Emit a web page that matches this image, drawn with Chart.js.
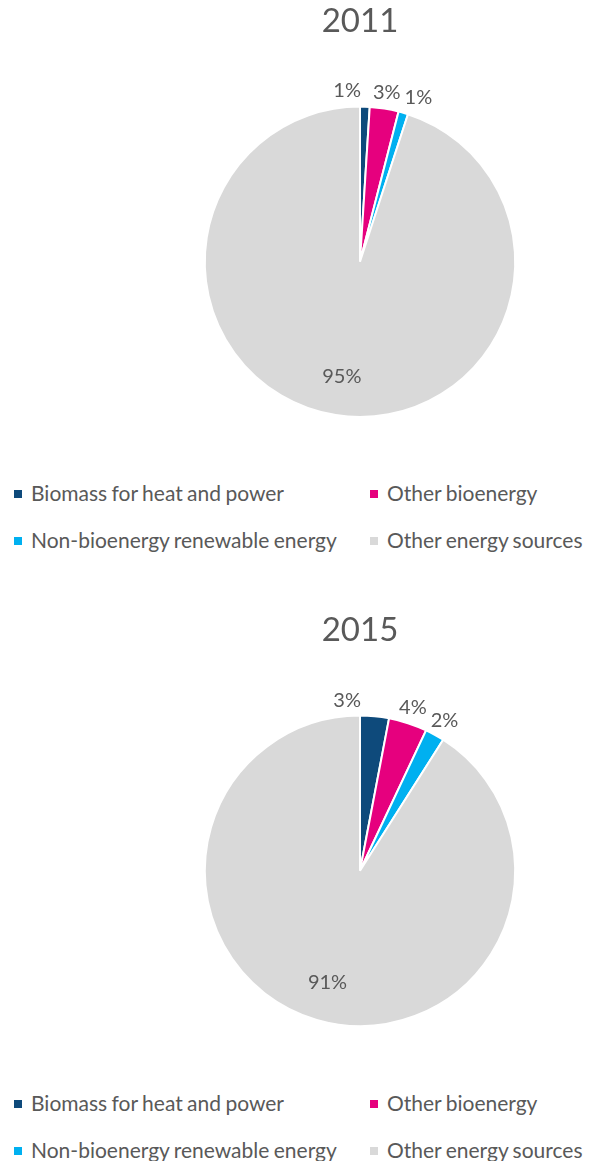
<!DOCTYPE html>
<html>
<head>
<meta charset="utf-8">
<script src="https://cdn.jsdelivr.net/npm/chart.js@4.4.1/dist/chart.umd.min.js"></script>
<style>
  body { margin: 0; background: #fff; font-family: Lato, "Open Sans", sans-serif; }
  #page { position: relative; width: 597px; height: 1161px; overflow: hidden; }
  .block { position: absolute; left: 0; width: 597px; }
  .block canvas { display: block; }
  .legend { position: absolute; left: 0; width: 597px; color: #595959; font-size: 21px; word-spacing: -1px; }
  .legend .item { position: absolute; white-space: nowrap; line-height: 22px; }
  .legend .box { display: inline-block; width: 8px; height: 8px; margin-right: 9px; vertical-align: 3px; }
</style>
</head>
<body>
<div id="page">
  <div class="block" id="block2011" style="top:0px">
    <canvas id="pie2011" width="597" height="470"></canvas>
    <div class="legend" id="legend2011" style="top:482px"></div>
  </div>
  <div class="block" id="block2015" style="top:609px">
    <canvas id="pie2015" width="597" height="470"></canvas>
    <div class="legend" id="legend2015" style="top:483px"></div>
  </div>
</div>
<script>
// categories and values (percent shares)
const categories = ['Biomass for heat and power', 'Other bioenergy', 'Non-bioenergy renewable energy', 'Other energy sources'];
const values2011 = [1, 3, 1, 95];
const values2015 = [3, 4, 2, 91];
const sliceColors = ['#0E4A7B', '#E6007E', '#00B0F0', '#D9D9D9'];

const textColor = '#595959';

// draws the % labels, small slices outside the pie, big ones inside
const pieLabels = {
  id: 'pieLabels',
  afterDatasetsDraw(chart) {
    const ctx = chart.ctx;
    const meta = chart.getDatasetMeta(0);
    const data = chart.data.datasets[0].data;
    ctx.save();
    ctx.font = '20px Lato, "Open Sans", sans-serif';
    ctx.fillStyle = textColor;
    ctx.textBaseline = 'middle';
    ctx.textAlign = 'left';
    let lastRight = -Infinity;
    meta.data.forEach((arc, i) => {
      const p = arc.getProps(['x', 'y', 'startAngle', 'endAngle', 'outerRadius'], true);
      const mid = (p.startAngle + p.endAngle) / 2;
      const txt = data[i] + '%';
      const w = ctx.measureText(txt).width;
      if (data[i] < 10) {
        const r = p.outerRadius + 16;
        let left = p.x + Math.cos(mid) * r - w / 2;
        const y = p.y + Math.sin(mid) * r;
        // label right above the top gets pushed to the left like in Excel
        if (mid + Math.PI / 2 < 0.12) {
          left = p.x + 1 - w;
        }
        // push right if it runs into the label before it
        if (left < lastRight + 4) left = lastRight + 4;
        ctx.fillText(txt, left, y);
        lastRight = left + w;
      } else {
        const r = p.outerRadius * 0.75;
        ctx.fillText(txt, p.x + Math.cos(mid) * r - w / 2, p.y + Math.sin(mid) * r);
      }
    });
    ctx.restore();
  }
};

function makePie(id, title, values) {
  const ctx = document.getElementById(id);
  return new Chart(ctx, {
    type: 'pie',
    data: {
      labels: categories,
      datasets: [{
        data: values,
        backgroundColor: sliceColors,
        borderColor: '#ffffff',
        borderWidth: 2
      }]
    },
    options: {
      responsive: false,
      animation: false,
      layout: { padding: { left: 123, right: 0, top: 2, bottom: 52 } },
      plugins: {
        legend: { display: false },
        tooltip: { enabled: false },
        title: {
          display: true,
          text: title,
          color: textColor,
          font: { family: 'Lato, "Open Sans", sans-serif', size: 33, weight: 'normal' },
          padding: { top: 0, bottom: 64 }
        }
      }
    },
    plugins: [pieLabels]
  });
}

function makeLegend(id) {
  const el = document.getElementById(id);
  const pos = [[14, 0], [370, 0], [14, 47], [370, 47]];
  categories.forEach((c, i) => {
    const item = document.createElement('div');
    item.className = 'item';
    item.style.left = pos[i][0] + 'px';
    item.style.top = pos[i][1] + 'px';
    const box = document.createElement('span');
    box.className = 'box';
    box.style.background = sliceColors[i];
    item.appendChild(box);
    item.appendChild(document.createTextNode(c));
    el.appendChild(item);
  });
}

makePie('pie2011', '2011', values2011);
makePie('pie2015', '2015', values2015);
makeLegend('legend2011');
makeLegend('legend2015');
</script>
</body>
</html>
